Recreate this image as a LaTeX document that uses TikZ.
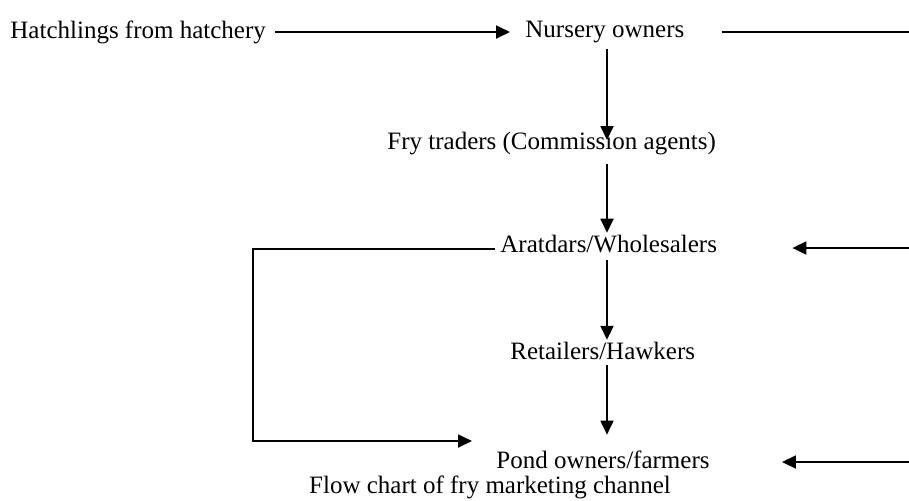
\documentclass[tikz,border=0pt]{standalone}
\usepackage{fontspec}
\setmainfont{Liberation Serif}
\usetikzlibrary{arrows.meta}
\begin{document}
\begin{tikzpicture}[x=0.5pt,y=-0.5pt,
    lab/.style={inner sep=1pt,anchor=west,font=\fontsize{12.5}{15}\selectfont},
    link/.style={line width=0.9pt},
    arr/.style={link,-{Triangle[length=7pt,width=6.5pt]}}]
  \useasboundingbox (0,0) rectangle (909,500);
  % chain of traders
  \node[lab] (hatch) at (8,32) {Hatchlings from hatchery};
  \node[lab] (nurs) at (523,32) {Nursery owners};
  \node[lab] (fry) at (385,144) {Fry traders (Commission agents)};
  \node[lab] (ara) at (498,244) {Aratdars/Wholesalers};
  \node[lab] (ret) at (508,351) {Retailers/Hawkers};
  \node[lab] (pond) at (494,460) {Pond owners/farmers};
  \node[lab,anchor=base] (cap) at (490,493) {Flow chart of fry marketing channel};
  \coordinate (col) at (607,0);
  \coordinate (loopc) at (253,441);
  \coordinate (loopend) at (472,441);
  \coordinate (rtop) at (909,32);
  \coordinate (rmid) at (909,248);
  \coordinate (rbot) at (909,462);
  \draw[arr,shorten <=3.5pt,shorten >=6.5pt] (hatch.east) -- (nurs.west);
  \draw[arr,shorten <=2pt,shorten >=2pt] (col |- nurs.south) -- (col |- fry.center);
  \draw[arr,shorten <=3pt] (col |- fry.south) -- (col |- ara.north);
  \draw[arr,shorten <=2.5pt] (col |- ara.south) -- (col |- ret.north);
  \draw[arr,shorten <=1.5pt,shorten >=7pt] (col |- ret.south) -- (col |- pond.north);
  % loop past the retailers
  \draw[arr,shorten <=1.5pt] ([yshift=-2.5pt]ara.west) -| (loopc) -- (loopend);
  % lines from the right edge
  \draw[link,shorten <=17.5pt] (nurs.east) -- (rtop);
  \draw[arr,shorten >=36.5pt] (rmid) -- (rmid -| ara.east);
  \draw[arr,shorten >=35pt] (rbot) -- (rbot -| pond.east);
\end{tikzpicture}
\end{document}
